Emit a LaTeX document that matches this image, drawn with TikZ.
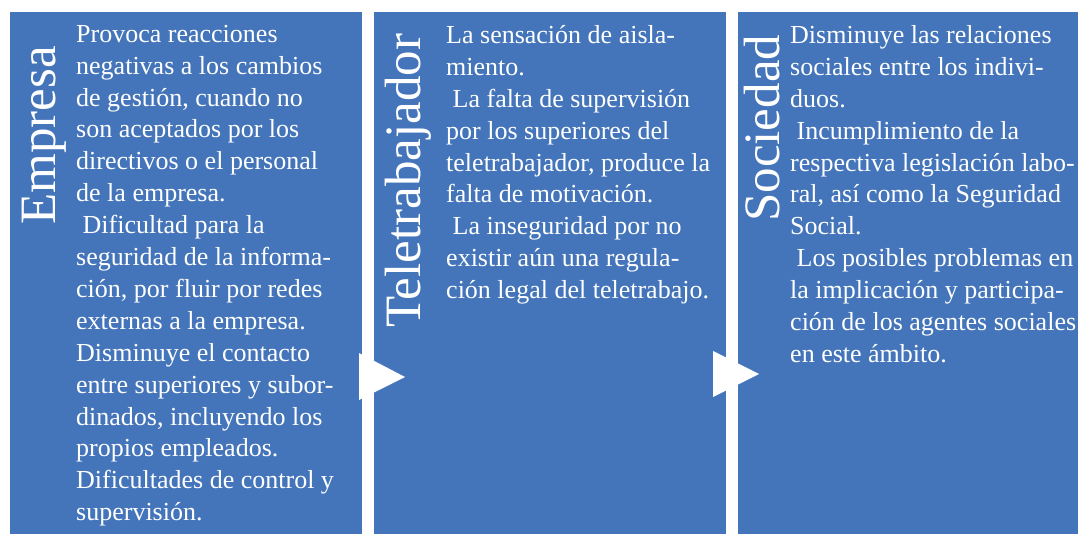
\documentclass[tikz,border=0pt]{standalone}
\usepackage{fontspec}
\setmainfont{Liberation Serif}
\definecolor{panelblue}{HTML}{4475BA}
\newcommand{\lead}{\hspace*{0.25em}}
\newcommand{\topstrut}{\rule{0pt}{24pt}}
\begin{document}
\begin{tikzpicture}[x=1pt,y=-1pt,
  panel/.style={fill=panelblue, draw=none, inner sep=0pt, anchor=north west},
  title/.style={text=white, inner sep=0pt, anchor=base west, rotate=90,
    font=\fontsize{51}{60}\selectfont},
  body/.style={text=white, inner sep=0pt, anchor=north west, align=left,
    font=\fontsize{26}{31.9}\selectfont},
  arrowtri/.style={fill=white, draw=none}]
\useasboundingbox (0,0) rectangle (1078,534);
\node[panel, minimum width=352pt, minimum height=522pt] (p1) at (10,12) {};
\node[panel, minimum width=352pt, minimum height=522pt] (p2) at (374,12) {};
\node[panel, minimum width=340pt, minimum height=522pt] (p3) at (738,12) {};
\node[title] (t1) at (55,225) {Empresa};
\node[title] (t2) at (420,328) {Teletrabajador};
\node[title] (t3) at (779,222) {Sociedad};
\node[body] (b1) at (76,18) {\topstrut Provoca reacciones\\
negativas a los cambios\\
de gestión, cuando no\\
son aceptados por los\\
directivos o el personal\\
de la empresa.\\
\lead Dificultad para la\\
seguridad de la informa-\\
ción, por fluir por redes\\
externas a la empresa.\\
Disminuye el contacto\\
entre superiores y subor-\\
dinados, incluyendo los\\
propios empleados.\\
Dificultades de control y\\
supervisión.};
\node[body] (b2) at (446,19.3) {\topstrut La sensación de aisla-\\
miento.\\
\lead La falta de supervisión\\
por los superiores del\\
teletrabajador, produce la\\
falta de motivación.\\
\lead La inseguridad por no\\
existir aún una regula-\\
ción legal del teletrabajo.};
\node[body] (b3) at (790,19.3) {\topstrut Disminuye las relaciones\\
sociales entre los indivi-\\
duos.\\
\lead Incumplimiento de la\\
respectiva legislación labo-\\
ral, así como la Seguridad\\
Social.\\
\lead Los posibles problemas en\\
la implicación y participa-\\
ción de los agentes sociales\\
en este ámbito.};
\fill[arrowtri] (359,353) -- (359,400) -- (405,377) -- cycle;
\fill[arrowtri] (713,351) -- (713,397) -- (759,374) -- cycle;
\end{tikzpicture}
\end{document}
